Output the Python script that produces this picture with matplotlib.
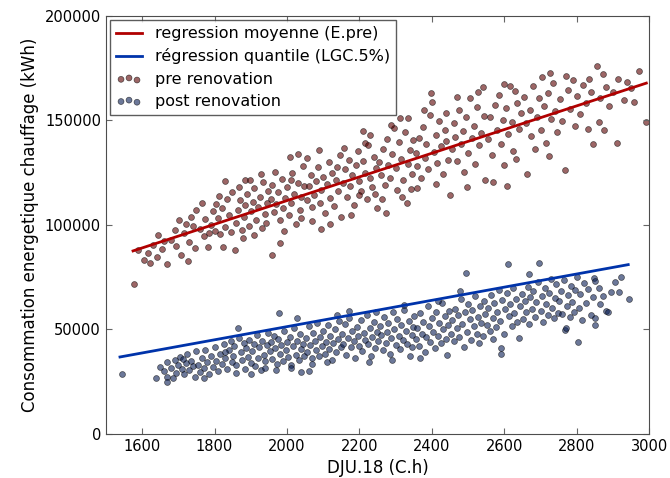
import matplotlib.pyplot as plt

# pre renovation points (DJU, kWh)
pre_x = [1577, 1590, 1605, 1622, 1640, 1645, 1630, 1655, 1615,
         1669, 1707, 1726, 1702, 1680, 1690, 1715, 1730, 1740, 1745, 1660, 1695, 1720, 1735,
         1750, 1782, 1824, 1829, 1760, 1770, 1775, 1790, 1795, 1800, 1805, 1810, 1815, 1820, 1830, 1835, 1840, 1845, 1848, 1765, 1785, 1812,
         1856, 1884, 1898, 1860, 1865, 1870, 1875, 1880, 1885, 1890, 1895, 1900, 1905, 1910, 1915, 1920, 1925, 1930, 1935, 1940, 1945, 1948, 1868, 1878, 1908, 1928, 1942,
         1960, 1982, 2008, 2031, 1955, 1960, 1965, 1970, 1975, 1980, 1985, 1990, 1995, 2000, 2005, 2010, 2015, 2020, 2025, 2030, 2035, 2040, 2045, 2048, 1968, 1992, 2012, 2038,
         2054, 2093, 2055, 2060, 2065, 2070, 2075, 2080, 2085, 2090, 2095, 2100, 2105, 2110, 2115, 2120, 2125, 2130, 2135, 2140, 2145, 2148, 2068, 2088, 2118, 2138,
         2211, 2215, 2155, 2160, 2165, 2170, 2175, 2180, 2185, 2190, 2195, 2200, 2205, 2210, 2215, 2220, 2225, 2230, 2235, 2240, 2245, 2248, 2158, 2178, 2198, 2228, 2242,
         2273, 2312, 2334, 2330, 2255, 2260, 2265, 2270, 2275, 2280, 2285, 2290, 2295, 2300, 2305, 2310, 2315, 2320, 2325, 2335, 2340, 2345, 2348, 2262, 2288, 2318, 2342,
         2398, 2400, 2450, 2355, 2360, 2365, 2370, 2375, 2380, 2385, 2390, 2395, 2405, 2410, 2415, 2420, 2425, 2430, 2435, 2440, 2445, 2358, 2378, 2412, 2438,
         2540, 2455, 2460, 2465, 2470, 2475, 2480, 2485, 2490, 2495, 2500, 2505, 2510, 2515, 2520, 2525, 2530, 2535, 2545, 2548, 2468, 2498, 2528,
         2570, 2607, 2629, 2555, 2560, 2565, 2575, 2580, 2585, 2590, 2595, 2600, 2605, 2610, 2615, 2620, 2625, 2635, 2640, 2645, 2598, 2632,
         2662, 2724, 2655, 2660, 2670, 2675, 2680, 2690, 2695, 2700, 2705, 2710, 2715, 2720, 2730, 2735, 2740, 2745, 2685, 2725,
         2768, 2789, 2818, 2846, 2755, 2760, 2775, 2780, 2795, 2800, 2810, 2825, 2835, 2840, 2830, 2770,
         2855, 2871, 2973, 2992, 2938, 2929, 2957, 2910, 2860, 2865, 2880, 2890, 2900, 2915, 2950, 2875]
pre_y = [71600, 88000, 83000, 81700, 84800, 95200, 90500, 88500, 86500,
         81200, 85600, 82900, 102400, 93000, 97500, 96000, 92000, 99500, 89000, 92500, 90000, 100500, 104000,
         107200, 89600, 89600, 121000, 98000, 94500, 103000, 100000, 106500, 97000, 110000, 103500, 95500, 108000, 99000, 112500, 104500, 96500, 115500, 110500, 96000, 114000,
         88000, 121500, 121700, 101000, 107000, 112000, 97500, 104000, 109500, 115000, 99500, 106500, 111000, 117500, 102500, 108500, 113500, 98500, 120500, 105000, 110500, 116000, 118000, 93500, 95000, 124500, 101000,
         85600, 91200, 132700, 133800, 112500, 119000, 106000, 110000, 115500, 102500, 122000, 108000, 113000, 118000, 104500, 110500, 125000, 115000, 100500, 120000, 107000, 113500, 128000, 118500, 125500, 97000, 121500, 103500,
         131900, 98100, 112000, 118500, 124000, 108500, 114500, 121000, 127500, 110500, 116500, 123000, 105500, 119500, 130000, 113000, 125000, 109000, 121500, 116000, 133500, 104000, 102000, 136000, 100500, 127500,
         145100, 139100, 120000, 126500, 113500, 131000, 118500, 124000, 109500, 128500, 135500, 121000, 116000, 130500, 125000, 112500, 138000, 122500, 118000, 132500, 127000, 108000, 137000, 104500, 114500, 143000, 115000,
         105900, 151100, 151100, 110400, 130000, 124000, 136500, 119000, 141000, 128500, 122500, 134000, 146500, 127000, 116500, 139500, 131500, 121500, 144500, 129000, 136000, 124500, 140500, 112500, 148000, 113500, 117000,
         163300, 158700, 114400, 134500, 128000, 141500, 122500, 147000, 132000, 138500, 126500, 152500, 135000, 143000, 129500, 149500, 137500, 124500, 145500, 140000, 131000, 117500, 155000, 119500, 153500,
         165900, 136500, 148500, 142000, 130500, 155000, 138500, 145000, 125500, 151500, 134500, 160500, 141500, 147500, 129000, 156500, 138000, 144000, 152000, 121500, 161000, 118000, 163500,
         120300, 118800, 164000, 141000, 151500, 133500, 157500, 145500, 162000, 138500, 150000, 128500, 156000, 143500, 166500, 149000, 135500, 158500, 146000, 153500, 167500, 131500,
         124400, 133000, 161000, 148500, 155000, 142500, 166500, 151500, 160500, 145500, 170500, 157000, 139000, 163000, 150500, 168000, 154500, 144500, 136500, 172500,
         126300, 169400, 167000, 138600, 160000, 149500, 164500, 155500, 147500, 161500, 153000, 158500, 170000, 163500, 146000, 171000,
         176200, 172300, 173400, 149400, 168300, 159500, 159000, 139100, 149000, 160500, 166000, 157000, 163500, 170000, 165500, 145500]

# post renovation points (DJU, kWh)
post_x = [1544, 1639, 1668, 1668, 1668, 1650, 1660,
          1680, 1690, 1695, 1700, 1705, 1710, 1715, 1720, 1725, 1730, 1735, 1740, 1745, 1748, 1685, 1712,
          1755, 1760, 1765, 1770, 1775, 1780, 1785, 1790, 1795, 1800, 1805, 1810, 1815, 1820, 1825, 1830, 1835, 1840, 1845, 1848, 1772, 1828,
          1865, 1852, 1855, 1860, 1868, 1872, 1876, 1880, 1884, 1888, 1892, 1896, 1900, 1904, 1908, 1912, 1916, 1920, 1924, 1928, 1932, 1936, 1940, 1944, 1948, 1858, 1902, 1938,
          1977, 2029, 2039, 2061, 1952, 1956, 1960, 1964, 1968, 1972, 1976, 1980, 1984, 1988, 1992, 1996, 2000, 2004, 2008, 2012, 2016, 2020, 2024, 2028, 2032, 2036, 2040, 2044, 2048, 1970, 2010,
          2052, 2056, 2060, 2064, 2068, 2072, 2076, 2080, 2084, 2088, 2092, 2096, 2100, 2104, 2108, 2112, 2116, 2120, 2124, 2128, 2132, 2136, 2140, 2144, 2148, 2070, 2110, 2138,
          2152, 2156, 2160, 2164, 2168, 2172, 2176, 2180, 2184, 2188, 2192, 2196, 2200, 2204, 2208, 2212, 2216, 2220, 2224, 2228, 2232, 2236, 2240, 2244, 2248, 2170, 2226, 2246,
          2252, 2256, 2260, 2264, 2268, 2272, 2276, 2280, 2284, 2288, 2292, 2296, 2300, 2304, 2308, 2312, 2316, 2320, 2324, 2328, 2332, 2336, 2340, 2344, 2348, 2290, 2322, 2346,
          2352, 2356, 2360, 2364, 2368, 2372, 2376, 2380, 2384, 2388, 2392, 2396, 2400, 2404, 2408, 2412, 2416, 2420, 2424, 2428, 2432, 2436, 2440, 2444, 2448, 2366, 2418, 2442,
          2495, 2530, 2452, 2456, 2460, 2464, 2468, 2472, 2476, 2480, 2484, 2488, 2492, 2496, 2500, 2504, 2508, 2512, 2516, 2520, 2524, 2528, 2532, 2536, 2540, 2544, 2548, 2478,
          2590, 2590, 2609, 2640, 2552, 2556, 2560, 2564, 2568, 2572, 2576, 2580, 2584, 2588, 2594, 2598, 2602, 2606, 2612, 2616, 2620, 2624, 2628, 2632, 2636, 2644, 2648, 2570,
          2697, 2669, 2652, 2656, 2660, 2664, 2668, 2672, 2676, 2680, 2684, 2688, 2692, 2700, 2704, 2708, 2712, 2716, 2720, 2724, 2728, 2732, 2736, 2740, 2744, 2748,
          2767, 2770, 2803, 2752, 2756, 2760, 2764, 2772, 2776, 2780, 2784, 2788, 2792, 2796, 2800, 2806, 2810, 2815, 2820, 2826, 2832, 2838, 2844, 2848,
          2850, 2850, 2850, 2871, 2880, 2885, 2922, 2917, 2943, 2860, 2865, 2895, 2905]
post_y = [28700, 26900, 27400, 25000, 34600, 32000, 30000,
          31500, 35500, 29000, 33000, 37000, 31000, 28500, 34000, 38500, 30500, 35000, 32500, 27500, 39500, 27000, 36000,
          33000, 29500, 36500, 31500, 40000, 34500, 28500, 37500, 32000, 41500, 35000, 30000, 38500, 33500, 43000, 36500, 31000, 40000, 44500, 34500, 27000, 39000,
          50500, 37500, 42000, 33000, 46000, 39000, 35500, 43500, 31000, 41000, 37000, 45000, 34000, 39500, 43000, 32500, 47500, 36500, 41500, 30500, 44500, 38000, 35000, 42500, 48500, 29000, 28500, 31500,
          57700, 55300, 29700, 30300, 39500, 44000, 36000, 47000, 41000, 33500, 45500, 38500, 42500, 35000, 49500, 40000, 44000, 37000, 46500, 33000, 42000, 50500, 38000, 44500, 35500, 48000, 40500, 43000, 37500, 30500, 31500,
          46000, 39000, 51500, 42500, 36500, 48500, 44500, 40000, 53000, 37500, 46500, 42000, 49500, 38500, 44000, 52000, 40500, 47000, 35500, 43500, 50000, 39000, 45500, 54000, 41500, 33500, 34500, 57000,
          48000, 43000, 52500, 38000, 46000, 55500, 41500, 49500, 44500, 36500, 51000, 47000, 42000, 54500, 39500, 48500, 45000, 57000, 43000, 50500, 37500, 46500, 53500, 41000, 49000, 59000, 34500, 58500,
          44500, 51500, 47500, 40000, 56000, 43500, 49000, 53000, 38500, 46000, 58500, 50000, 42500, 55000, 47000, 40500, 52000, 45000, 59500, 49500, 43000, 54000, 37500, 47500, 51000, 35500, 61500, 41500,
          56500, 45500, 50500, 42000, 58000, 48000, 53500, 39000, 46500, 61000, 51500, 44000, 55500, 49000, 41000, 58500, 47000, 53000, 43500, 62500, 50000, 56500, 45500, 52000, 59000, 36500, 63500, 38000,
          77200, 43700, 48000, 54500, 44500, 60000, 50500, 57000, 46500, 64500, 52500, 41500, 58500, 49000, 62000, 55000, 45000, 59500, 51500, 66000, 48000, 56000, 61000, 53000, 47000, 63500, 57500, 68500,
          38100, 41000, 81200, 45800, 52000, 60500, 49500, 66500, 55500, 62500, 51000, 58500, 69000, 54000, 64000, 48000, 60000, 67500, 56500, 62000, 51500, 70000, 58000, 64500, 53500, 61000, 67000, 45500,
          82000, 76400, 55000, 63500, 58500, 70500, 52500, 65500, 60000, 68500, 56000, 63000, 72500, 59000, 66000, 53500, 70000, 62000, 57000, 67500, 74000, 60500, 55500, 65000, 71500, 58000,
          49800, 50500, 44200, 63500, 68500, 57500, 73500, 61000, 66500, 56000, 71000, 63000, 58500, 69000, 75000, 60500, 67000, 54500, 72000, 62500, 69500, 57000, 65500, 74500,
          73200, 55400, 52200, 66200, 58600, 58400, 75000, 67900, 64500, 70000, 62000, 68000, 72500]

# regression line end points
reg_pre_x = [1575, 2992]
reg_pre_y = [87560, 167800]
reg_post_x = [1539, 2942]
reg_post_y = [36840, 81000]

fig = plt.figure(figsize=(6.7, 4.78), dpi=100)
ax = fig.add_axes([0.158, 0.092, 0.811, 0.875])

ax.plot(reg_pre_x, reg_pre_y, color="#b00000", lw=2, label="regression moyenne (E.pre)", zorder=3)
ax.plot(reg_post_x, reg_post_y, color="#0033aa", lw=2, label="régression quantile (LGC.5%)", zorder=3)
ax.scatter(pre_x, pre_y, s=18, c="#5a0000", alpha=0.6, edgecolors="k", linewidths=0.5, label="pre renovation")
ax.scatter(post_x, post_y, s=18, c="#0b1f55", alpha=0.6, edgecolors="k", linewidths=0.5, label="post renovation")

ax.set_xlim(1500, 3000)
ax.set_ylim(0, 200000)
ax.set_xticks([1600, 1800, 2000, 2200, 2400, 2600, 2800, 3000])
ax.set_yticks([0, 50000, 100000, 150000, 200000])
ax.tick_params(direction="in", top=True, right=True, labelsize=10.5, length=4, color="0.4")
for sp in ax.spines.values():
    sp.set_color("0.3")

ax.set_xlabel("DJU.18 (C.h)", fontsize=12)
ax.set_ylabel("Consommation energetique chauffage (kWh)", fontsize=12)

leg = ax.legend(loc="upper left", scatterpoints=3, fontsize=11.5, fancybox=False,
                borderaxespad=0.25, handlelength=1.6, labelspacing=0.45)
leg.get_frame().set_edgecolor("0.2")

fig.savefig("out.png")
